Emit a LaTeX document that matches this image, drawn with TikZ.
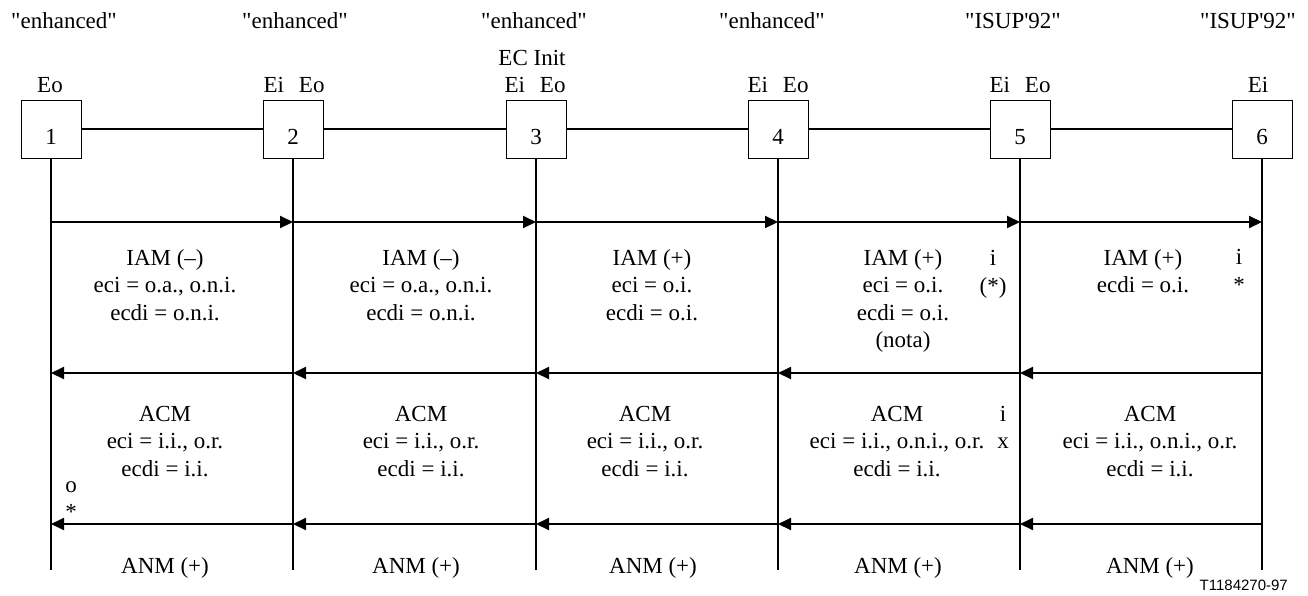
\documentclass[tikz,border=0pt]{standalone}
\usepackage{fontspec}
\setmainfont{Liberation Serif}
\newfontfamily\figsans{Liberation Sans}
\usetikzlibrary{arrows.meta,positioning}
\newcommand{\qt}[1]{\textquotedbl#1\textquotedbl}

\begin{document}
\begin{tikzpicture}[x=1pt, y=-1pt,
  every node/.style={font=\fontsize{23}{27.5}\selectfont, inner sep=0pt},
  exch/.style={draw, line width=1pt, minimum width=60pt, minimum height=58pt,
    text height=30pt, text depth=0pt},
  txt/.style={align=center, anchor=base},
  trunk/.style={line width=2pt},
  life/.style={line width=2pt},
  msg/.style={line width=2pt, -{Triangle[length=13pt,width=12pt]}}]
\useasboundingbox (0,0) rectangle (1308,595);
\foreach \i/\x in {1/51,2/293,3/536,4/778,5/1020,6/1262} {
  \node[exch] (n\i) at (\x,129) {\i};
  \coordinate (e\i) at (\x,570);
  \coordinate (a\i) at (\x,222);
  \coordinate (b\i) at (\x,373);
  \coordinate (c\i) at (\x,524);
  \draw[life] (n\i) -- (e\i);
}
\foreach \p/\q in {1/2,2/3,3/4,4/5,5/6} {
  \draw[trunk] (n\p) -- (n\q);
  \draw[msg] (a\p) -- (a\q);
  \draw[msg] (b\q) -- (b\p);
  \draw[msg] (c\q) -- (c\p);
}
\node[txt] (st1) at (64,28) {\qt{enhanced}};
\node[txt] (st2) at (295,28) {\qt{enhanced}};
\node[txt] (st3) at (534,28) {\qt{enhanced}};
\node[txt] (st4) at (772,28) {\qt{enhanced}};
\node[txt] (st5) at (1013,28) {\qt{ISUP\textquotesingle 92}};
\node[txt] (st6) at (1248,28) {\qt{ISUP\textquotesingle 92}};
\node[txt] (ec3) at (532,65) {EC Init};
\node[txt] (eo1) at (50,92) {Eo};
\node[txt] (eo2) at (294,92) {Ei\hspace{15pt}Eo};
\node[txt] (eo3) at (535,92) {Ei\hspace{15pt}Eo};
\node[txt] (eo4) at (778,92) {Ei\hspace{15pt}Eo};
\node[txt] (eo5) at (1020,92) {Ei\hspace{15pt}Eo};
\node[txt] (eo6) at (1258,92) {Ei};
\node[txt] (iam1) at (165,320) {IAM (--)\\eci = o.a., o.n.i.\\ecdi = o.n.i.};
\node[txt] (iam2) at (421,320) {IAM (--)\\eci = o.a., o.n.i.\\ecdi = o.n.i.};
\node[txt] (iam3) at (652,320) {IAM (+)\\eci = o.i.\\ecdi = o.i.};
\node[txt] (iam4) at (903,347.5) {IAM (+)\\eci = o.i.\\ecdi = o.i.\\(nota)};
\node[txt] (iam5) at (1143,292.5) {IAM (+)\\ecdi = o.i.};
\node[txt] (nt4) at (993,293) {i\\(*)};
\node[txt] (nt5) at (1239,292) {i\\*};
\node[txt] (acm1) at (165,476) {ACM\\eci = i.i., o.r.\\ecdi = i.i.};
\node[txt] (acm2) at (421,476) {ACM\\eci = i.i., o.r.\\ecdi = i.i.};
\node[txt] (acm3) at (645,476) {ACM\\eci = i.i., o.r.\\ecdi = i.i.};
\node[txt] (acm4) at (897,476) {ACM\\eci = i.i., o.n.i., o.r.\\ecdi = i.i.};
\node[txt] (acm5) at (1150,476) {ACM\\eci = i.i., o.n.i., o.r.\\ecdi = i.i.};
\node[txt] (ntx) at (1003,448.5) {i\\x};
\node[txt] (nto) at (71,519.5) {o\\*};
\node[txt] (anm1) at (165,573) {ANM (+)};
\node[txt] (anm2) at (416,573) {ANM (+)};
\node[txt] (anm3) at (653,573) {ANM (+)};
\node[txt] (anm4) at (898,573) {ANM (+)};
\node[txt] (anm5) at (1150,573) {ANM (+)};
\node[anchor=base east, font=\figsans\fontsize{15}{18}\selectfont] (ref) at (1288,590) {T1184270-97};
\end{tikzpicture}
\end{document}
